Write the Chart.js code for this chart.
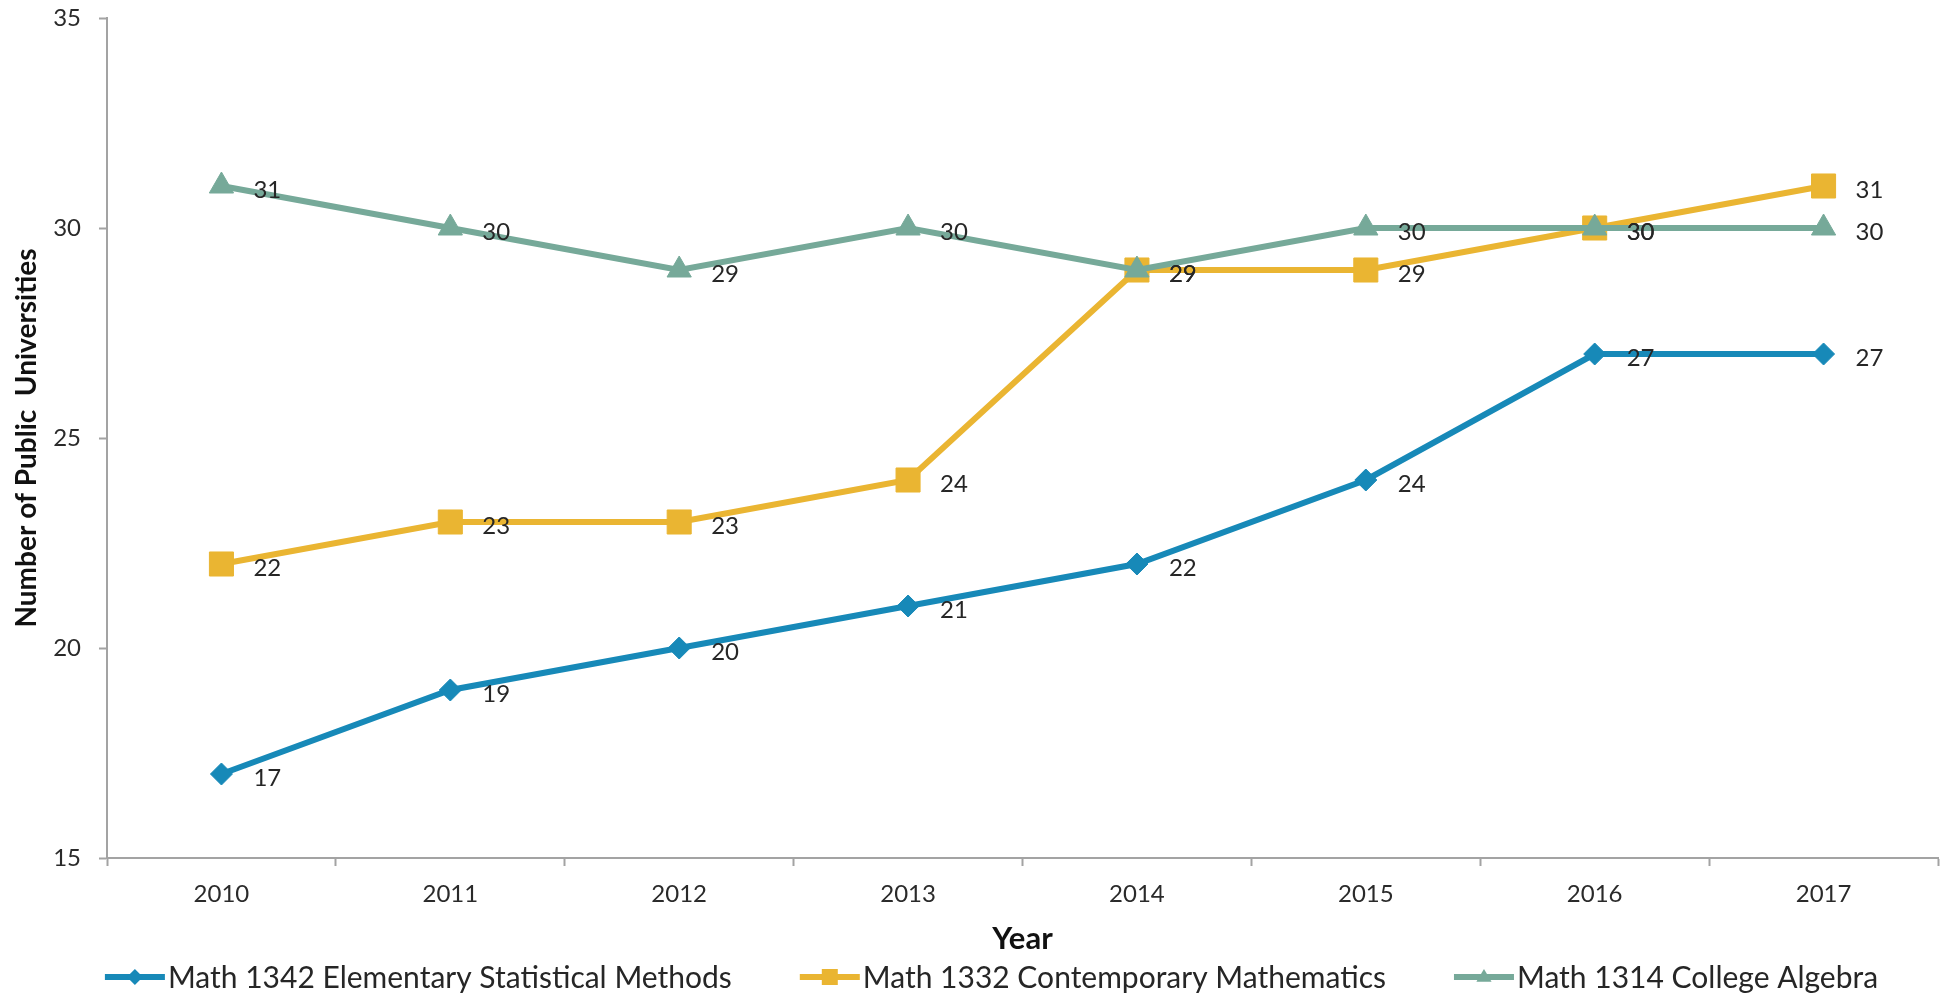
<!DOCTYPE html>
<html lang="en">
<head>
  <meta charset="UTF-8">
  <title>Number of Public Universities</title>
  <script src="https://cdn.jsdelivr.net/npm/chart.js"></script>
  <style>
    html, body { margin: 0; padding: 0; background: #ffffff; }
    .grafico { width: 1956px; height: 995px; }
  </style>
</head>
<body>
  <div class="grafico">
    <canvas id="myChart"></canvas>
  </div>
<script>
  // dados do gráfico
  const anos = ['2010', '2011', '2012', '2013', '2014', '2015', '2016', '2017'];
  const math1342 = [17, 19, 20, 21, 22, 24, 27, 27];
  const math1332 = [22, 23, 23, 24, 29, 29, 30, 31];
  const math1314 = [31, 30, 29, 30, 29, 30, 30, 30];
  const nomes = [
    'Math 1342 Elementary Statistical Methods',
    'Math 1332 Contemporary Mathematics',
    'Math 1314 College Algebra'
  ];
  const ticksY = [15, 20, 25, 30, 35];

  const azul = '#1789b8';
  const amarelo = '#eab532';
  const verde = '#76a999';
  const cinza = '#a3a3a3';
  const fonte = 'Lato';

  // desenha o marcador de cada série (usado na legenda)
  function marcador(ctx, estilo, x, y, r, cor) {
    ctx.fillStyle = cor;
    ctx.beginPath();
    if (estilo === 'rectRot') {
      ctx.moveTo(x - r, y); ctx.lineTo(x, y - r); ctx.lineTo(x + r, y); ctx.lineTo(x, y + r);
    } else if (estilo === 'rect') {
      ctx.rect(x - r, y - r, 2 * r, 2 * r);
    } else {
      ctx.moveTo(x, y - r); ctx.lineTo(x + r * 0.95, y + r * 0.6); ctx.lineTo(x - r * 0.95, y + r * 0.6);
    }
    ctx.closePath();
    ctx.fill();
  }

  // rótulos de valor à direita de cada ponto
  const rotulos = {
    id: 'rotulos',
    afterDatasetsDraw(chart) {
      const ctx = chart.ctx;
      ctx.save();
      ctx.font = '24px ' + fonte;
      ctx.fillStyle = '#262626';
      ctx.textAlign = 'left';
      ctx.textBaseline = 'middle';
      chart.data.datasets.forEach((ds, i) => {
        chart.getDatasetMeta(i).data.forEach((pt, j) => {
          ctx.fillText(ds.data[j], pt.x + 32, pt.y + 4);
        });
      });
      ctx.restore();
    }
  };

  // legenda embaixo: linha com marcador + texto
  const legenda = {
    id: 'legenda',
    afterDraw(chart) {
      const ctx = chart.ctx;
      const linha = 60, espaco = 3, entre = 68;
      ctx.save();
      ctx.font = '30px ' + fonte;
      ctx.textBaseline = 'middle';
      const itens = chart.data.datasets.map(ds => ({ ds, w: ctx.measureText(ds.label).width }));
      let total = itens.reduce((s, it) => s + linha + espaco + it.w, 0) + entre * (itens.length - 1);
      let x = (chart.chartArea.left + chart.chartArea.right) / 2 - 31 - total / 2;
      const y = 977;
      itens.forEach(it => {
        ctx.strokeStyle = it.ds.borderColor;
        ctx.lineWidth = 6;
        ctx.beginPath();
        ctx.moveTo(x, y); ctx.lineTo(x + linha, y);
        ctx.stroke();
        marcador(ctx, it.ds.pointStyle, x + linha / 2, y, 8, it.ds.borderColor);
        ctx.fillStyle = '#262626';
        ctx.fillText(it.ds.label, x + linha + espaco, y + 1);
        x += linha + espaco + it.w + entre;
      });
      ctx.restore();
    }
  };

  const dados = {
    labels: anos,
    datasets: [
      {
        label: nomes[0],
        data: math1342,
        borderColor: azul,
        backgroundColor: azul,
        pointStyle: 'rectRot',
        pointRadius: 11,
        order: 2
      },
      {
        label: nomes[1],
        data: math1332,
        borderColor: amarelo,
        backgroundColor: amarelo,
        pointStyle: 'rect',
        pointRadius: 17,
        order: 1
      },
      {
        label: nomes[2],
        data: math1314,
        borderColor: verde,
        backgroundColor: verde,
        pointStyle: 'triangle',
        pointRadius: 14,
        order: 0
      }
    ]
  };

  const config = {
    type: 'line',
    data: dados,
    options: {
      responsive: true,
      maintainAspectRatio: false,
      animation: false,
      layout: { padding: { top: 18, right: 14, bottom: 37, left: 0 } },
      elements: {
        line: { borderWidth: 6, tension: 0 },
        point: { borderWidth: 1, hoverRadius: 12 }
      },
      plugins: {
        legend: { display: false },
        tooltip: { enabled: false }
      },
      scales: {
        x: {
          offset: true,
          grid: { offset: true, drawOnChartArea: false, tickLength: 8, tickColor: cinza, tickWidth: 2 },
          border: { color: cinza, width: 2 },
          ticks: { color: '#2a2a2a', font: { family: fonte, size: 24 }, padding: 14, maxRotation: 0 },
          title: { display: true, text: 'Year', color: '#111111', font: { family: fonte, size: 31, weight: 'bold' }, padding: { top: 0, bottom: 0 } },
          afterFit(scale) { scale.height = 100; }
        },
        y: {
          min: ticksY[0],
          max: ticksY[ticksY.length - 1],
          afterBuildTicks(scale) { scale.ticks = ticksY.map(v => ({ value: v })); },
          grid: { drawOnChartArea: false, tickLength: 8, tickColor: cinza, tickWidth: 2 },
          border: { color: cinza, width: 2 },
          ticks: { color: '#2a2a2a', font: { family: fonte, size: 24 }, padding: 18 },
          title: { display: true, text: 'Number of Public  Universities', color: '#111111', font: { family: fonte, size: 28, weight: 'bold' }, padding: { top: 10, bottom: 0 } },
          afterFit(scale) {
            scale.width = 107;
            scale.paddingTop = 0;
            scale.paddingBottom = 0;
          }
        }
      }
    },
    plugins: [rotulos, legenda]
  };

  let myChart = new Chart(document.getElementById('myChart'), config);
</script>
</body>
</html>
